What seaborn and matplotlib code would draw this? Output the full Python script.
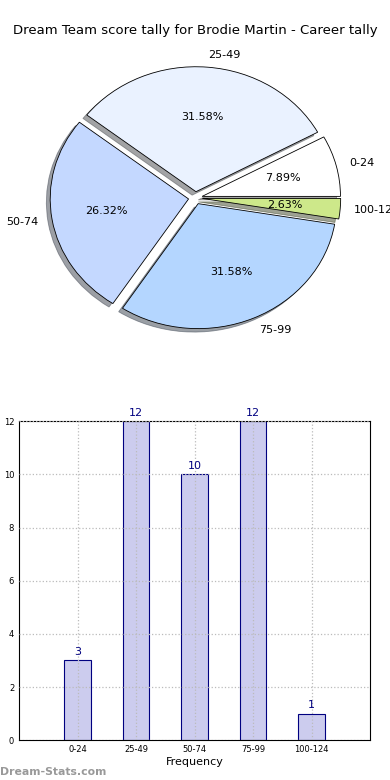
import numpy as np
import pandas as pd
import matplotlib
matplotlib.use('Agg')
import matplotlib.pyplot as plt
import seaborn as sns

# score bands and tallies
bands = ['0-24', '25-49', '50-74', '75-99', '100-124']
tally = [3, 12, 10, 12, 1]
slice_colors = ['#ffffff', '#eaf2ff', '#c4d8ff', '#b4d6ff', '#cde88a']

sns.set_style('white')
plt.rcParams['font.family'] = ['DejaVu Sans']
plt.rcParams['text.color'] = 'black'
plt.rcParams['axes.labelcolor'] = 'black'
plt.rcParams['xtick.color'] = 'black'
plt.rcParams['ytick.color'] = 'black'

fig = plt.figure(figsize=(3.9, 7.8), dpi=100)
fig.patch.set_facecolor('white')

# ---- pie ----
ax1 = fig.add_axes([0.0575, 0.546, 0.887, 0.4005])
wedges, texts, autotexts = ax1.pie(
    tally, labels=bands, colors=slice_colors, explode=[0.05] * len(tally),
    autopct='%.2f%%', shadow=True, startangle=0, labeldistance=1.1,
    pctdistance=0.6,
    wedgeprops={'edgecolor': 'black', 'linewidth': 0.6},
    textprops={'fontsize': 8, 'color': 'black'})
ax1.set_aspect('auto')
ax1.set_xlim(-1.25, 1.25)
ax1.set_ylim(-1.25, 1.25)
fig.text(0.5, 0.961, 'Dream Team score tally for Brodie Martin - Career tally',
         ha='center', va='center', fontsize=9.5)

# ---- bars ----
ax2 = fig.add_axes([0.049, 0.051, 0.9, 0.409])
df = pd.DataFrame({'band': bands, 'count': tally})
sns.barplot(data=df, x='band', y='count', color='#ccccee', saturation=1,
            width=0.45, edgecolor='#000080', linewidth=0.8, ax=ax2, zorder=1)
for i, v in enumerate(tally):
    ax2.text(i, v + 0.12, str(v), ha='center', va='bottom', fontsize=8,
             color='#000080')
ax2.set_xlim(-1, 5)
ax2.set_ylim(0, 12)
ax2.set_yticks(range(0, 13, 2))
ax2.grid(True, linestyle=':', color='#bbbbbb', linewidth=0.9, zorder=3)
ax2.set_axisbelow(False)
for s in ax2.spines.values():
    s.set_color('black')
    s.set_linewidth(0.8)
ax2.tick_params(labelsize=6, length=2, direction='in')
ax2.set_xlabel('Frequency', fontsize=8, labelpad=2)
ax2.set_ylabel('Score Interval', fontsize=8)

fig.text(0.0, 0.004, 'Dream-Stats.com', fontsize=7.8, color='#999999',
         fontweight='bold', ha='left', va='bottom')

fig.savefig('out.png', dpi=100)
